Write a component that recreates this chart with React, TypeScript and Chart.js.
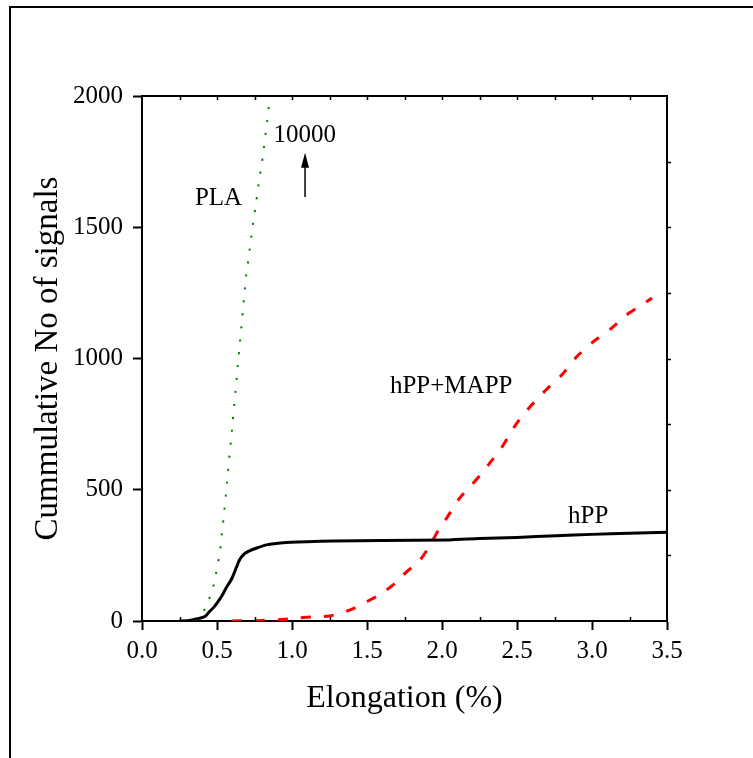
import React, { useEffect, useRef } from 'react';
import { Chart, registerables } from 'chart.js';

Chart.register(...registerables);

const FONT = "'Liberation Serif', 'Times New Roman', Times, serif";

// hPP (black solid)
const hppX = [0.25, 0.30, 0.34, 0.38, 0.42, 0.45, 0.475, 0.50, 0.53, 0.56, 0.60, 0.63, 0.65, 0.68, 0.72, 0.76, 0.83, 0.94, 1.1, 1.28, 1.6, 2.05, 2.25, 2.5, 2.76, 3.0, 3.25, 3.5];
const hppY = [0, 1, 5, 10, 17, 36, 50, 68, 93, 125, 163, 205, 232, 255, 268, 277, 290, 298, 302, 305, 307, 309, 314, 318, 325, 330, 334, 338];

// hPP+MAPP (red dashed)
const mappX = [0.6, 0.8, 0.94, 1.05, 1.15, 1.25, 1.34, 1.42, 1.5, 1.57, 1.63, 1.69, 1.74, 1.8, 1.853, 1.9, 1.94, 1.98, 2.03, 2.12, 2.2, 2.275, 2.33, 2.387, 2.44, 2.498, 2.587, 2.698, 2.798, 2.898, 3.009, 3.12, 3.231, 3.32, 3.4];
const mappY = [0, 2, 6, 12, 16, 19, 32, 50, 74, 95, 118, 145, 175, 205, 232, 270, 309, 350, 391, 470, 520, 569, 610, 651, 700, 753, 816, 883, 937, 1007, 1064, 1111, 1166, 1200, 1230];

// PLA (green dotted)
const plaX = [0.36, 0.40, 0.427, 0.464, 0.487, 0.502, 0.52, 0.527, 0.538, 0.547, 0.556, 0.564, 0.6, 0.64, 0.696, 0.709, 0.72, 0.731, 0.744, 0.758, 0.771, 0.782, 0.798, 0.809, 0.82, 0.831, 0.842, 0.852];
const plaY = [0, 25, 57, 108, 159, 210, 260, 309, 359, 410, 461, 514, 730, 980, 1327, 1375, 1426, 1474, 1528, 1585, 1635, 1686, 1737, 1788, 1839, 1890, 1940, 2000];

const xTickValues = [0, 0.5, 1.0, 1.5, 2.0, 2.5, 3.0, 3.5];
const yTickValues = [0, 500, 1000, 1500, 2000];

const xTitle = 'Elongation (%)';
const yTitle = 'Cummulative No of signals';

const labelTexts = ['PLA', '10000', 'hPP+MAPP', 'hPP'];
const labelX = [0.353, 0.876, 1.653, 2.84];
const labelY = [1585, 1825, 869, 373];

const arrowX = 1.087;
const arrowFrom = 1615;
const arrowTo = 1784;

const toPoints = (xs: number[], ys: number[]) => xs.map((x, i) => ({ x, y: ys[i] }));

const decorPlugin = {
  id: 'decor',
  beforeDraw(chart: any) {
    const ctx = chart.ctx;
    ctx.save();
    ctx.fillStyle = '#fff';
    ctx.fillRect(0, 0, chart.width, chart.height);
    ctx.fillStyle = '#000';
    ctx.fillRect(9, 6, 2, chart.height - 6);
    ctx.fillRect(9, 6, chart.width - 9, 2);
    ctx.restore();
  },
  afterDraw(chart: any) {
    const ctx = chart.ctx;
    const { left, top, right, bottom } = chart.chartArea;
    const xs = chart.scales.x;
    const ys = chart.scales.y;
    ctx.save();
    ctx.strokeStyle = '#000';
    ctx.lineWidth = 2;
    ctx.beginPath();
    ctx.moveTo(left, top);
    ctx.lineTo(right, top);
    ctx.lineTo(right, bottom);
    ctx.stroke();

    ctx.lineWidth = 1.5;
    ctx.beginPath();
    for (let v = 0.25; v < 3.5; v += 0.25) {
      const px = Math.round(xs.getPixelForValue(v)) + 0.5;
      ctx.moveTo(px, top);
      ctx.lineTo(px, top + 4);
      if (Math.abs((v / 0.5) - Math.round(v / 0.5)) > 0.01) {
        ctx.moveTo(px, bottom);
        ctx.lineTo(px, bottom - 4);
      }
    }
    for (let v = 250; v < 2000; v += 250) {
      const py = Math.round(ys.getPixelForValue(v)) + 0.5;
      ctx.moveTo(right, py);
      ctx.lineTo(right + 4, py);
    }
    ctx.stroke();

    // y title
    ctx.fillStyle = '#000';
    ctx.font = `33px ${FONT}`;
    ctx.translate(57, (top + bottom) / 2);
    ctx.rotate(-Math.PI / 2);
    ctx.textAlign = 'center';
    ctx.textBaseline = 'alphabetic';
    ctx.fillText(yTitle, 0, 0);
    ctx.setTransform(1, 0, 0, 1, 0, 0);

    // annotations
    ctx.font = `25px ${FONT}`;
    ctx.textAlign = 'left';
    ctx.textBaseline = 'alphabetic';
    labelTexts.forEach((t, i) => {
      ctx.fillText(t, xs.getPixelForValue(labelX[i]), ys.getPixelForValue(labelY[i]));
    });

    // arrow
    const ax = xs.getPixelForValue(arrowX);
    const ay0 = ys.getPixelForValue(arrowFrom);
    const ay1 = ys.getPixelForValue(arrowTo);
    ctx.lineWidth = 1.5;
    ctx.beginPath();
    ctx.moveTo(ax, ay0);
    ctx.lineTo(ax, ay1 + 12);
    ctx.stroke();
    ctx.beginPath();
    ctx.moveTo(ax, ay1);
    ctx.lineTo(ax - 4, ay1 + 15);
    ctx.lineTo(ax + 4, ay1 + 15);
    ctx.closePath();
    ctx.fill();
    ctx.restore();
  },
};

export default function App() {
  const ref = useRef<HTMLCanvasElement | null>(null);
  useEffect(() => {
    if (!ref.current) return;
    const chart = new Chart(ref.current, {
      type: 'line',
      data: {
        datasets: [
          {
            label: 'hPP',
            data: toPoints(hppX, hppY),
            borderColor: '#000',
            borderWidth: 3,
            pointRadius: 0,
            tension: 0.2,
            fill: false,
          },
          {
            label: 'hPP+MAPP',
            data: toPoints(mappX, mappY),
            borderColor: '#ff0000',
            borderWidth: 3,
            borderDash: [10, 13],
            pointRadius: 0,
            tension: 0.2,
            fill: false,
          },
          {
            label: 'PLA',
            data: toPoints(plaX, plaY),
            borderColor: '#008000',
            borderWidth: 2,
            borderDash: [2, 11],
            pointRadius: 0,
            tension: 0.1,
            fill: false,
          },
        ],
      },
      options: {
        responsive: false,
        animation: false,
        devicePixelRatio: 1,
        layout: { padding: { left: 0, top: 96, right: 86, bottom: 0 } },
        plugins: { legend: { display: false }, tooltip: { enabled: false } },
        scales: {
          x: {
            type: 'linear',
            min: 0,
            max: 3.5,
            afterBuildTicks: (s: any) => {
              s.ticks = xTickValues.map((v) => ({ value: v }));
            },
            afterFit: (s: any) => {
              s.height = 137;
            },
            ticks: {
              color: '#000',
              font: { family: FONT, size: 25, lineHeight: 1.2 },
              padding: 6,
              maxRotation: 0,
              autoSkip: false,
              callback: (v: any) => Number(v).toFixed(1),
            },
            grid: {
              drawOnChartArea: false,
              drawTicks: true,
              tickLength: 9,
              tickWidth: 2,
              tickColor: '#000',
            },
            border: { display: true, color: '#000', width: 2 },
            title: {
              display: true,
              text: xTitle,
              color: '#000',
              font: { family: FONT, size: 32, lineHeight: 1.2 },
              padding: { top: 0, bottom: 40 },
            },
          },
          y: {
            type: 'linear',
            min: 0,
            max: 2000,
            afterBuildTicks: (s: any) => {
              s.ticks = yTickValues.map((v) => ({ value: v }));
            },
            afterFit: (s: any) => {
              s.width = 142;
            },
            ticks: {
              color: '#000',
              font: { family: FONT, size: 25, lineHeight: 1.2 },
              padding: 10,
              autoSkip: false,
              callback: (v: any) => String(v),
            },
            grid: {
              drawOnChartArea: false,
              drawTicks: true,
              tickLength: 9,
              tickWidth: 2,
              tickColor: '#000',
            },
            border: { display: true, color: '#000', width: 2 },
            title: { display: false },
          },
        },
      },
      plugins: [decorPlugin],
    });
    return () => chart.destroy();
  }, []);
  return (
    <div style={{ position: 'absolute', left: 0, top: 0, width: 753, height: 758 }}>
      <canvas ref={ref} width={753} height={758} style={{ display: 'block' }} />
    </div>
  );
}
